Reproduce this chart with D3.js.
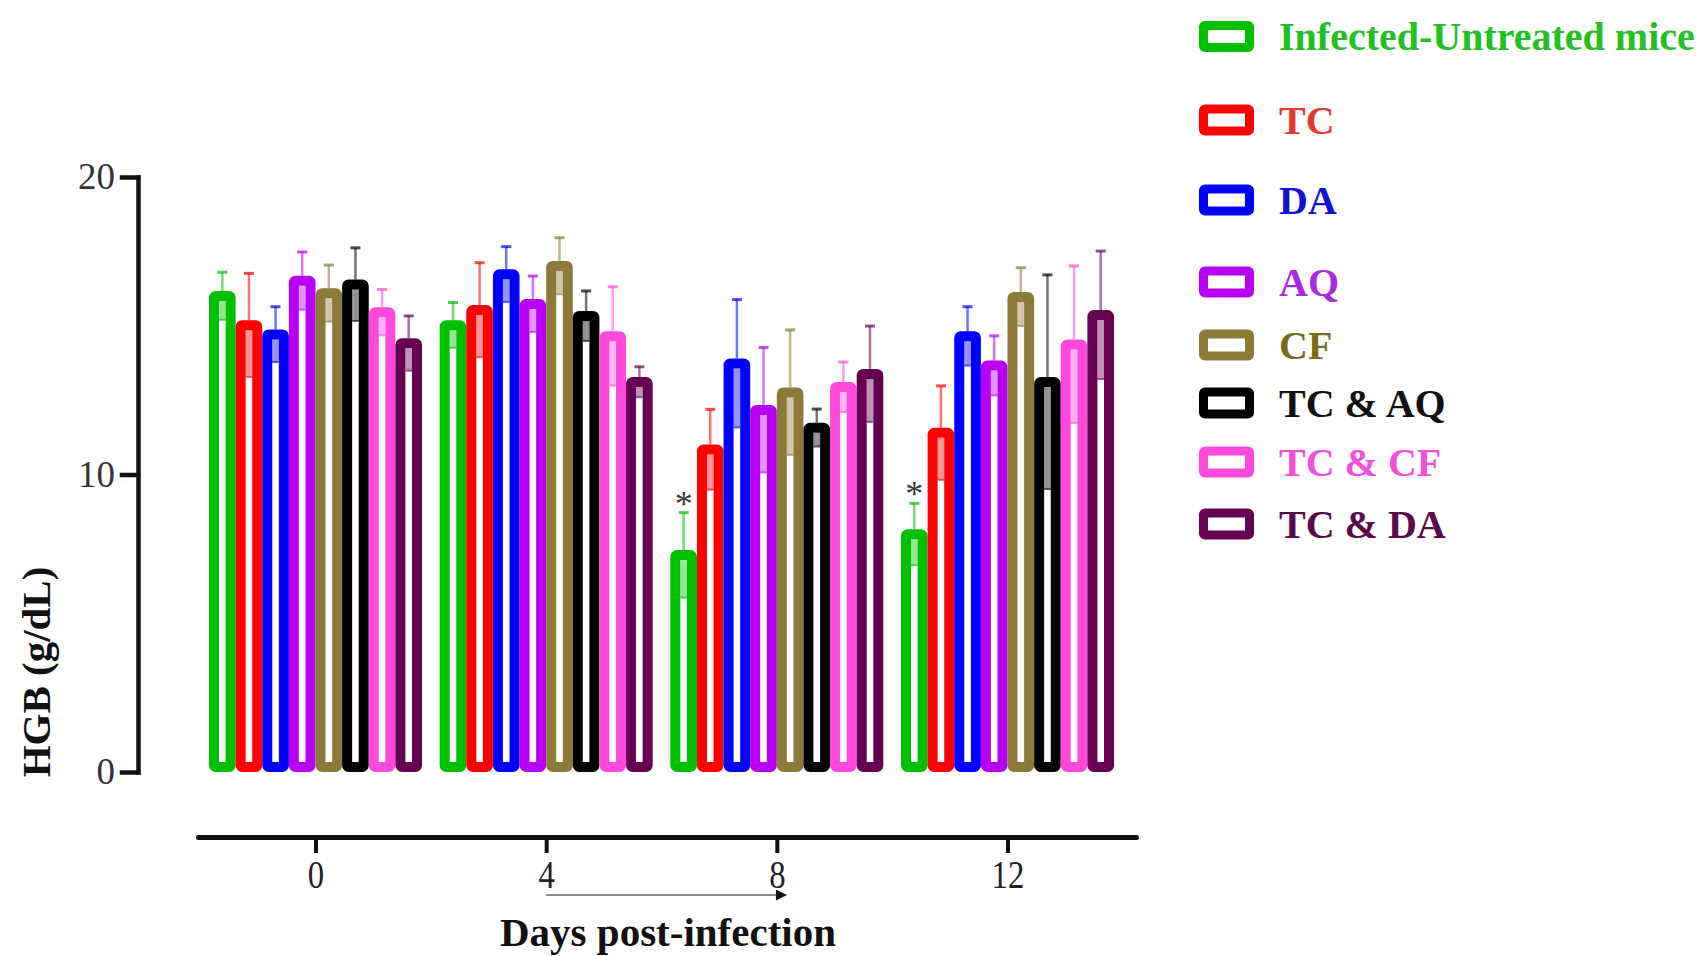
<!DOCTYPE html>
<html>
<head>
<meta charset="utf-8">
<script src="https://cdn.jsdelivr.net/npm/d3@7/dist/d3.min.js"></script>
<style>
  html, body { margin: 0; padding: 0; background: #ffffff; }
  svg { display: block; }
  text { font-family: "Liberation Serif", "Times New Roman", serif; }
</style>
</head>
<body>
<svg id="chart" width="1708" height="956"></svg>
<script>
// ---------------- DATA ----------------
const days = [0, 4, 8, 12];
const series = ["Infected-Untreated mice", "TC", "DA", "AQ", "CF", "TC & AQ", "TC & CF", "TC & DA"];
const barColors = ["#00c000", "#ff0000", "#0000ff", "#b700f5", "#8c7a38", "#000000", "#ff48dc", "#650052"];
const legendTextColors = ["#22c022", "#e8382e", "#1212d6", "#a82ae2", "#7a6a1c", "#111111", "#f050d8", "#5a0a4c"];

// mean HGB (g/dL) for days 0, 4, 8, 12
const meanInfected = [16.00, 15.02, 7.29, 7.99];
const meanTC       = [15.02, 15.53, 10.84, 11.40];
const meanDA       = [14.71, 16.73, 13.73, 14.65];
const meanAQ       = [16.51, 15.73, 12.17, 13.66];
const meanCF       = [16.09, 17.01, 12.76, 15.97];
const meanTCAQ     = [16.39, 15.33, 11.57, 13.11];
const meanTCCF     = [15.45, 14.65, 12.94, 14.37];
const meanTCDA     = [14.41, 13.11, 13.38, 15.36];

// SD
const sdInfected = [0.80, 0.76, 1.43, 1.04];
const sdTC       = [1.74, 1.59, 1.35, 1.58];
const sdDA       = [0.93, 0.93, 2.15, 0.99];
const sdAQ       = [0.97, 0.94, 2.10, 1.00];
const sdCF       = [0.95, 0.95, 2.10, 0.98];
const sdTCAQ     = [1.23, 0.84, 0.63, 3.60];
const sdTCCF     = [0.77, 1.66, 0.84, 2.64];
const sdTCDA     = [0.92, 0.51, 1.61, 2.15];

const yTicks = [0, 10, 20];
const starDays = [8, 12];          // significance markers on the Infected-Untreated group
const starLabel = "*";
const yTitle = "HGB (g/dL)";
const xTitle = "Days post-infection";
const arrowFromDay = 4, arrowToDay = 8;

// -------------- TABLE ----------------
const means = [meanInfected, meanTC, meanDA, meanAQ, meanCF, meanTCAQ, meanTCCF, meanTCDA];
const sds   = [sdInfected, sdTC, sdDA, sdAQ, sdCF, sdTCAQ, sdTCCF, sdTCDA];
const rows = [];
series.forEach((s, si) => days.forEach((d, di) => {
  rows.push({ series: s, si, day: d, mean: means[si][di], sd: sds[si][di] });
}));

// -------------- LAYOUT ----------------
const svg = d3.select("#chart");
const y = d3.scaleLinear().domain([0, 20]).range([772, 177]);
const x = d3.scaleLinear().domain([0, 12]).range([315.5, 1007.5]);
const xAxisScale = x.copy().domain([x.invert(198), x.invert(1136)]).range([198, 1136]);
const band = d3.scaleBand().domain(series).range([-106.5, 106.5]).padding(0);
const bw = band.bandwidth();
const sw = 10;
const color = d3.scaleOrdinal().domain(series).range(barColors);

// y axis
const yAxis = svg.append("g")
  .attr("transform", "translate(138,0)")
  .call(d3.axisLeft(y).tickValues(yTicks).tickSize(16).tickPadding(7).tickSizeOuter(0).tickFormat(d3.format("d")));
yAxis.select(".domain").attr("stroke", "#111").attr("stroke-width", 4.5).attr("stroke-linecap", "square");
yAxis.selectAll(".tick line").attr("stroke", "#111").attr("stroke-width", 4.5).attr("stroke-linecap", "square");
yAxis.selectAll(".tick text").attr("font-size", 37).attr("fill", "#333")
  .style("font-family", "'Liberation Serif', serif");

// x axis (offset)
const xAxis = svg.append("g")
  .attr("transform", "translate(0,837)")
  .call(d3.axisBottom(xAxisScale).tickValues(days).tickSize(16).tickPadding(7).tickSizeOuter(0).tickFormat(d3.format("d")));
xAxis.select(".domain").attr("stroke", "#111").attr("stroke-width", 5).attr("stroke-linecap", "round");
xAxis.selectAll(".tick line").attr("stroke", "#111").attr("stroke-width", 4);
xAxis.selectAll(".tick text").attr("font-size", 40).attr("fill", "#222")
  .attr("transform", "scale(0.82,1)")
  .style("font-family", "'Liberation Serif', serif");

// bars
const gBars = svg.append("g");
const barX = d => x(d.day) + band(d.series);

gBars.selectAll("rect.bar").data(rows).join("rect")
  .attr("class", "bar")
  .attr("x", d => barX(d) + sw / 2)
  .attr("y", d => y(d.mean))
  .attr("width", bw - sw)
  .attr("height", d => (y(0) - sw / 2) - y(d.mean))
  .attr("rx", 1.5)
  .attr("fill", "#ffffff")
  .attr("stroke", d => color(d.series))
  .attr("stroke-width", sw)
  .attr("stroke-linejoin", "round");

// lower error (inside bar, tinted)
gBars.selectAll("rect.lowErr").data(rows).join("rect")
  .attr("class", "lowErr")
  .attr("x", d => barX(d) + sw)
  .attr("y", d => y(d.mean) + sw / 2)
  .attr("width", bw - 2 * sw)
  .attr("height", d => Math.max(0, y(d.mean - d.sd) - (y(d.mean) + sw / 2)))
  .attr("fill", d => color(d.series))
  .attr("fill-opacity", 0.42);
gBars.selectAll("line.lowCap").data(rows).join("line")
  .attr("class", "lowCap")
  .attr("x1", d => barX(d) + sw).attr("x2", d => barX(d) + bw - sw)
  .attr("y1", d => y(d.mean - d.sd)).attr("y2", d => y(d.mean - d.sd))
  .attr("stroke", d => color(d.series)).attr("stroke-opacity", 0.6).attr("stroke-width", 2);

// upper error
gBars.selectAll("line.upErr").data(rows).join("line")
  .attr("class", "upErr")
  .attr("x1", d => barX(d) + bw / 2).attr("x2", d => barX(d) + bw / 2)
  .attr("y1", d => y(d.mean) - sw / 2).attr("y2", d => y(d.mean + d.sd))
  .attr("stroke", d => color(d.series)).attr("stroke-opacity", 0.55).attr("stroke-width", 2.5);
gBars.selectAll("line.upCap").data(rows).join("line")
  .attr("class", "upCap")
  .attr("x1", d => barX(d) + bw / 2 - 5).attr("x2", d => barX(d) + bw / 2 + 5)
  .attr("y1", d => y(d.mean + d.sd)).attr("y2", d => y(d.mean + d.sd))
  .attr("stroke", d => color(d.series)).attr("stroke-opacity", 0.7).attr("stroke-width", 3);

// significance stars
const starRows = rows.filter(r => r.si === 0 && starDays.includes(r.day));
svg.selectAll("text.star").data(starRows).join("text")
  .attr("class", "star")
  .attr("x", d => barX(d) + bw / 2)
  .attr("y", d => y(d.mean + d.sd) + 3)
  .attr("text-anchor", "middle")
  .attr("font-size", 36)
  .attr("fill", "#3a3a3a")
  .text(starLabel);

// arrow under x axis
const defs = svg.append("defs");
defs.append("marker").attr("id", "arrowHead")
  .attr("viewBox", "0 0 10 10").attr("refX", 9).attr("refY", 5)
  .attr("markerWidth", 13).attr("markerHeight", 11).attr("markerUnits", "userSpaceOnUse")
  .attr("orient", "auto")
  .append("path").attr("d", "M0,0 L10,5 L0,10 Z").attr("fill", "#111");
svg.append("line")
  .attr("x1", x(arrowFromDay)).attr("x2", x(arrowToDay) + 9)
  .attr("y1", 895).attr("y2", 895)
  .attr("stroke", "#8a8a8a").attr("stroke-width", 2)
  .attr("marker-end", "url(#arrowHead)");

// titles
svg.append("text")
  .attr("x", 668).attr("y", 946)
  .attr("text-anchor", "middle")
  .attr("font-size", 41).attr("font-weight", "bold").attr("fill", "#111")
  .text(xTitle);
svg.append("text")
  .attr("transform", "translate(50,672) rotate(-90)")
  .attr("text-anchor", "middle")
  .attr("font-size", 41).attr("font-weight", "bold").attr("fill", "#111")
  .text(yTitle);

// legend
const legendRowY = [36.5, 120, 200, 282, 345, 403, 462, 524];
const legend = svg.append("g").selectAll("g").data(series).join("g")
  .attr("transform", (d, i) => `translate(0,${legendRowY[i]})`);
legend.append("rect")
  .attr("x", 1199 + 4.5).attr("y", -15.5 + 4.5)
  .attr("width", 55 - 9).attr("height", 31 - 9)
  .attr("rx", 1.5)
  .attr("fill", "#ffffff")
  .attr("stroke", d => color(d))
  .attr("stroke-width", 9)
  .attr("stroke-linejoin", "round");
legend.append("text")
  .attr("x", 1279).attr("y", 13.5)
  .attr("font-size", 40).attr("font-weight", "bold")
  .attr("fill", (d, i) => legendTextColors[i])
  .text(d => d);
</script>
</body>
</html>
